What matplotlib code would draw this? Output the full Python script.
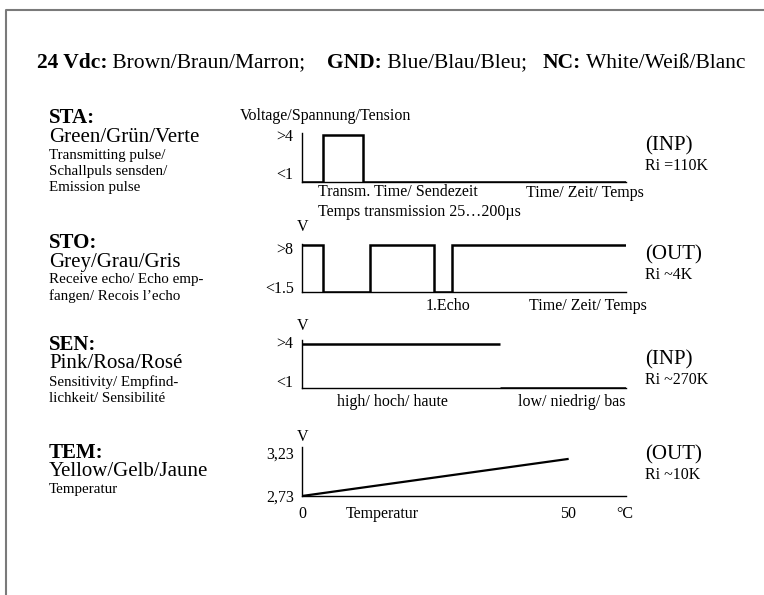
import matplotlib
matplotlib.use("Agg")
import matplotlib.pyplot as plt
from matplotlib.lines import Line2D

W, H = 764, 595
plt.rcParams["font.family"] = ["Liberation Serif", "DejaVu Serif"]

# header: wire colours
header = [("24 Vdc:", "bold"), (" Brown/Braun/Marron;    ", "normal"),
          ("GND:", "bold"), (" Blue/Blau/Bleu;   ", "normal"),
          ("NC:", "bold"), (" White/Weiß/Blanc", "normal")]

# left column
signals = ["STA:", "STO:", "SEN:", "TEM:"]
colours = ["Green/Grün/Verte", "Grey/Grau/Gris", "Pink/Rosa/Rosé", "Yellow/Gelb/Jaune"]
notes = [["Transmitting pulse/", "Schallpuls sensden/", "Emission pulse"],
         ["Receive echo/ Echo emp-", "fangen/ Recois l\u2019echo"],
         ["Sensitivity/ Empfind-", "lichkeit/ Sensibilité"],
         ["Temperatur"]]
modes = ["(INP)", "(OUT)", "(INP)", "(OUT)"]
resist = ["Ri =110K", "Ri ~4K", "Ri ~270K", "Ri ~10K"]

# STA: transmit pulse (time in % of axis, level 0/1)
sta_t = [0, 6.5, 6.5, 18.8, 18.8, 100]
sta_v = [0, 0, 1, 1, 0, 0]
sta_yticks = [1.0, 0.2]
sta_ylabels = [">4", "<1"]
sta_xticks = [87.3]
sta_xlabels = ["Time/ Zeit/ Temps"]

# STO: echo output
sto_t = [0, 6.5, 6.5, 21, 21, 40.7, 40.7, 46.3, 46.3, 100]
sto_v = [1, 1, 0, 0, 1, 1, 0, 0, 1, 1]
sto_yticks = [0.94, 0.11]
sto_ylabels = [">8", "<1.5"]
sto_xticks = [45, 88.3]
sto_xlabels = ["1.Echo", "Time/ Zeit/ Temps"]

# SEN: sensitivity level
sen_start = [0, 61]
sen_end = [61, 100]
sen_v = [1, 0]
sen_yticks = [1.045, 0.16]
sen_ylabels = [">4", "<1"]
sen_xticks = [28, 83.3]
sen_xlabels = ["high/ hoch/ haute", "low/ niedrig/ bas"]

# TEM: voltage vs temperature
tem_c = [0, 50]
tem_v = [2.73, 3.16]
tem_yticks = [3.23, 2.73]
tem_ylabels = ["3,23", "2,73"]
tem_xticks = [0, 15.2, 50, 60.8]
tem_xlabels = ["0", "Temperatur", "50", "°C"]

fig = plt.figure(figsize=(W / 100, H / 100), dpi=100)


def fx(x):
    return x / W


def fy(y):
    return 1 - y / H


def label(x, y, s, size, weight="normal", ha="left"):
    return fig.text(fx(x), fy(y), s, fontsize=size, fontweight=weight,
                    ha=ha, va="center")


def panel(x0, y0, x1, y1, xpad=5):
    ax = fig.add_axes([fx(x0), fy(y1), (x1 - x0) / W, (y1 - y0) / H])
    ax.spines["top"].set_visible(False)
    ax.spines["right"].set_visible(False)
    ax.spines["left"].set_linewidth(1.0)
    ax.spines["bottom"].set_linewidth(1.0)
    ax.tick_params(length=0, labelsize=11.5, pad=6)
    ax.tick_params(axis="x", pad=xpad)
    ax.patch.set_alpha(0)
    return ax


# page border
fig.add_artist(Line2D([fx(5.5), fx(5.5), 1], [0, fy(10), fy(10)],
                      transform=fig.transFigure, color="#7a7a7a", lw=1.5))

# header row, pieces placed one after another
renderer = fig.canvas.get_renderer()
x = 37
for s, w in header:
    t = fig.text(fx(x), fy(63), s, fontsize=15.5, fontweight=w, va="center")
    x += t.get_window_extent(renderer).width

# left column text
tops = [118, 243, 345, 453]
for top, sig, col, nt in zip(tops, signals, colours, notes):
    label(49, top, sig, 15, weight="bold")
    label(49, top + 19, col, 15)
    for i, line in enumerate(nt):
        label(49, top + 37 + 16 * i, line, 10.8)

# right column text
mode_y = [146, 255, 360, 455]
for y, m, r in zip(mode_y, modes, resist):
    label(645, y, m, 15)
    label(645, y + 20, r, 11.5)

label(240, 116, "Voltage/Spannung/Tension", 11.5)
for y in [227, 326, 437]:
    label(303, y, "V", 11.5, ha="center")

# STA
ax = panel(302, 133, 626, 182, xpad=2)
ax.plot(sta_t, sta_v, color="black", lw=1.8, solid_joinstyle="miter")
ax.set_xlim(0, 100)
ax.set_ylim(0, 1.04)
ax.set_yticks(sta_yticks, sta_ylabels)
ax.set_xticks(sta_xticks, sta_xlabels)
label(318, 192, "Transm. Time/ Sendezeit", 11.5)
label(318, 212, "Temps transmission 25\u2026200µs", 11.5)

# STO
ax = panel(302, 244, 626, 292, xpad=4)
ax.plot(sto_t, sto_v, color="black", lw=1.8, solid_joinstyle="miter")
ax.set_xlim(0, 100)
ax.set_ylim(0, 1.03)
ax.set_yticks(sto_yticks, sto_ylabels)
ax.set_xticks(sto_xticks, sto_xlabels)

# SEN
ax = panel(302, 340, 626, 388, xpad=4)
ax.hlines(sen_v, sen_start, sen_end, color="black", lw=1.8)
ax.set_xlim(0, 100)
ax.set_ylim(0, 1.09)
ax.set_yticks(sen_yticks, sen_ylabels)
ax.set_xticks(sen_xticks, sen_xlabels)

# TEM
ax = panel(302, 447, 626, 496, xpad=7)
ax.plot(tem_c, tem_v, color="black", lw=1.6)
ax.set_xlim(0, 61)
ax.set_ylim(2.73, 3.30)
ax.set_yticks(tem_yticks, tem_ylabels)
ax.set_xticks(tem_xticks, tem_xlabels)
ax.set_xticks([50], minor=True)
ax.set_yticks([3.23], minor=True)
ax.tick_params(which="minor", direction="in", length=6, width=1.0)

fig.savefig("out.png", dpi=100)
